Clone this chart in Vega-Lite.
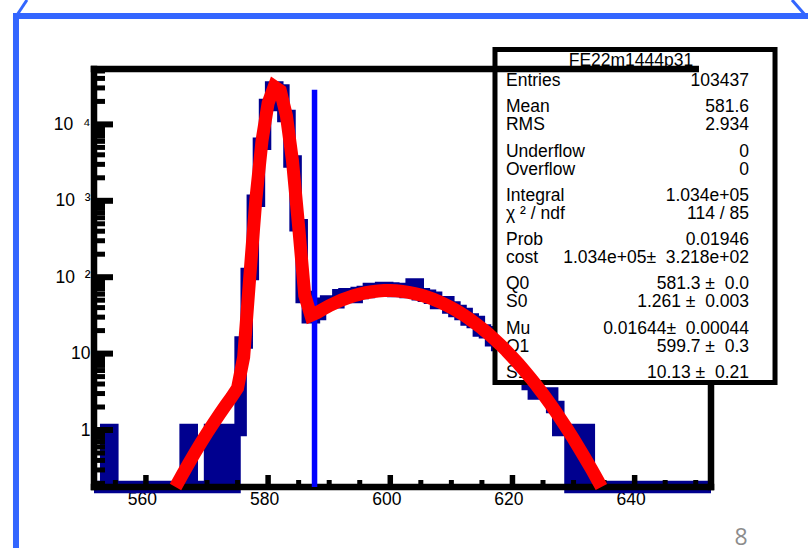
{
  "$schema": "https://vega.github.io/schema/vega-lite/v6.json",
  "width": 617,
  "height": 418,
  "autosize": {"type": "none"},
  "padding": {"left": 94, "top": 69, "right": 97, "bottom": 61},
  "background": "white",
  "config": {"view": {"stroke": null}, "font": "Liberation Sans"},
  "datasets": {
    "hist": [
      {"edge": 551.5, "n": 0}, {"edge": 552.5, "n": 0}, {"edge": 553.5, "n": 1}, {"edge": 554.5, "n": 0},
      {"edge": 555.5, "n": 0}, {"edge": 556.5, "n": 0}, {"edge": 557.5, "n": 0}, {"edge": 558.5, "n": 0},
      {"edge": 559.5, "n": 0}, {"edge": 560.5, "n": 0}, {"edge": 561.5, "n": 0}, {"edge": 562.5, "n": 0},
      {"edge": 563.5, "n": 0}, {"edge": 564.5, "n": 0}, {"edge": 565.5, "n": 0}, {"edge": 566.5, "n": 1},
      {"edge": 567.5, "n": 0}, {"edge": 568.5, "n": 0}, {"edge": 569.5, "n": 0}, {"edge": 570.5, "n": 1},
      {"edge": 571.5, "n": 0}, {"edge": 572.5, "n": 1}, {"edge": 573.5, "n": 0}, {"edge": 574.5, "n": 1},
      {"edge": 575.5, "n": 14}, {"edge": 576.5, "n": 110}, {"edge": 577.5, "n": 1000}, {"edge": 578.5, "n": 5600},
      {"edge": 579.5, "n": 18000}, {"edge": 580.5, "n": 30500}, {"edge": 581.5, "n": 27800}, {"edge": 582.5, "n": 12900},
      {"edge": 583.5, "n": 3270}, {"edge": 584.5, "n": 480}, {"edge": 585.5, "n": 55}, {"edge": 586.5, "n": 30},
      {"edge": 587.5, "n": 33}, {"edge": 588.5, "n": 45}, {"edge": 589.5, "n": 48}, {"edge": 590.5, "n": 47},
      {"edge": 591.5, "n": 58}, {"edge": 592.5, "n": 60}, {"edge": 593.5, "n": 55}, {"edge": 594.5, "n": 62},
      {"edge": 595.5, "n": 64}, {"edge": 596.5, "n": 70}, {"edge": 597.5, "n": 68}, {"edge": 598.5, "n": 72},
      {"edge": 599.5, "n": 71}, {"edge": 600.5, "n": 66}, {"edge": 601.5, "n": 70}, {"edge": 602.5, "n": 64},
      {"edge": 603.5, "n": 80}, {"edge": 604.5, "n": 60}, {"edge": 605.5, "n": 57}, {"edge": 606.5, "n": 54},
      {"edge": 607.5, "n": 46}, {"edge": 608.5, "n": 47}, {"edge": 609.5, "n": 40}, {"edge": 610.5, "n": 36},
      {"edge": 611.5, "n": 33}, {"edge": 612.5, "n": 28}, {"edge": 613.5, "n": 26}, {"edge": 614.5, "n": 20},
      {"edge": 615.5, "n": 19}, {"edge": 616.5, "n": 15}, {"edge": 617.5, "n": 13}, {"edge": 618.5, "n": 11},
      {"edge": 619.5, "n": 9}, {"edge": 620.5, "n": 7}, {"edge": 621.5, "n": 5}, {"edge": 622.5, "n": 4},
      {"edge": 623.5, "n": 3}, {"edge": 624.5, "n": 3}, {"edge": 625.5, "n": 3}, {"edge": 626.5, "n": 2},
      {"edge": 627.5, "n": 1}, {"edge": 628.5, "n": 1}, {"edge": 629.5, "n": 0}, {"edge": 630.5, "n": 1},
      {"edge": 631.5, "n": 1}, {"edge": 632.5, "n": 0}, {"edge": 633.5, "n": 0}, {"edge": 634.5, "n": 0},
      {"edge": 635.5, "n": 0}, {"edge": 636.5, "n": 0}, {"edge": 637.5, "n": 0}, {"edge": 638.5, "n": 0},
      {"edge": 639.5, "n": 0}, {"edge": 640.5, "n": 0}, {"edge": 641.5, "n": 0}, {"edge": 642.5, "n": 0},
      {"edge": 643.5, "n": 0}, {"edge": 644.5, "n": 0}, {"edge": 645.5, "n": 0}, {"edge": 646.5, "n": 0},
      {"edge": 647.5, "n": 0}, {"edge": 648.5, "n": 0}, {"edge": 649.5, "n": 0}, {"edge": 650.5, "n": 0},
      {"edge": 651.5, "n": 0}, {"edge": 652.5, "n": 0}
    ],
    "fit": [
      {"x": 564.84, "f": 0.1795}, {"x": 565, "f": 0.1893}, {"x": 566, "f": 0.2636}, {"x": 567, "f": 0.3648},
      {"x": 568, "f": 0.4992}, {"x": 569, "f": 0.677}, {"x": 570, "f": 0.9092}, {"x": 571, "f": 1.208},
      {"x": 572, "f": 1.5905}, {"x": 573, "f": 2.073}, {"x": 574, "f": 2.676}, {"x": 575, "f": 3.54},
      {"x": 576, "f": 9.02}, {"x": 577, "f": 101.5}, {"x": 578, "f": 1055}, {"x": 579, "f": 6107},
      {"x": 580, "f": 18924}, {"x": 581, "f": 31294}, {"x": 582, "f": 27599}, {"x": 583, "f": 12986},
      {"x": 584, "f": 3271}, {"x": 585, "f": 457.8}, {"x": 586, "f": 57.74}, {"x": 587, "f": 31.66},
      {"x": 588, "f": 34.36}, {"x": 589, "f": 38.29}, {"x": 590, "f": 42.29}, {"x": 591, "f": 46.26},
      {"x": 592, "f": 50.12}, {"x": 593, "f": 53.75}, {"x": 594, "f": 57.11}, {"x": 595, "f": 60.07},
      {"x": 596, "f": 62.59}, {"x": 597, "f": 64.57}, {"x": 598, "f": 65.97}, {"x": 599, "f": 66.74},
      {"x": 600, "f": 66.87}, {"x": 601, "f": 66.35}, {"x": 602, "f": 65.18}, {"x": 603, "f": 63.38},
      {"x": 604, "f": 61.14}, {"x": 605, "f": 58.29}, {"x": 606, "f": 55.11}, {"x": 607, "f": 51.6},
      {"x": 608, "f": 47.81}, {"x": 609, "f": 43.9}, {"x": 610, "f": 39.89}, {"x": 611, "f": 35.91},
      {"x": 612, "f": 32.03}, {"x": 613, "f": 28.24}, {"x": 614, "f": 24.65}, {"x": 615, "f": 21.37},
      {"x": 616, "f": 18.35}, {"x": 617, "f": 15.52}, {"x": 618, "f": 13.07}, {"x": 619, "f": 10.91},
      {"x": 620, "f": 8.98}, {"x": 621, "f": 7.33}, {"x": 622, "f": 5.92}, {"x": 623, "f": 4.75},
      {"x": 624, "f": 3.77}, {"x": 625, "f": 2.96}, {"x": 626, "f": 2.3}, {"x": 627, "f": 1.77},
      {"x": 628, "f": 1.35}, {"x": 629, "f": 1.02}, {"x": 630, "f": 0.762}, {"x": 631, "f": 0.562},
      {"x": 632, "f": 0.413}, {"x": 633, "f": 0.301}, {"x": 634, "f": 0.217}, {"x": 634.56, "f": 0.1795}
    ],
    "stats": [
      {"label": "Entries", "value": "103437", "g": 0, "half": 1},
      {"label": "Mean", "value": "581.6", "g": 1, "half": 0},
      {"label": "RMS", "value": "2.934", "g": 1, "half": 1},
      {"label": "Underflow", "value": "0", "g": 2, "half": 0},
      {"label": "Overflow", "value": "0", "g": 2, "half": 1},
      {"label": "Integral", "value": "1.034e+05", "g": 3, "half": 0},
      {"label": "χ ² / ndf", "value": "114 / 85", "g": 3, "half": 1},
      {"label": "Prob", "value": "0.01946", "g": 4, "half": 0},
      {"label": "cost", "value": "1.034e+05±\u00a0 3.218e+02", "g": 4, "half": 1},
      {"label": "Q0", "value": "581.3 ±\u00a0 0.0", "g": 5, "half": 0},
      {"label": "S0", "value": "1.261 ±\u00a0 0.003", "g": 5, "half": 1},
      {"label": "Mu", "value": "0.01644±\u00a0 0.00044", "g": 6, "half": 0},
      {"label": "Q1", "value": "599.7 ±\u00a0 0.3", "g": 6, "half": 1},
      {"label": "S1", "value": "10.13 ±\u00a0 0.21", "g": 7, "half": 0}
    ],
    "xmajor": [{"v": 560}, {"v": 580}, {"v": 600}, {"v": 620}, {"v": 640}],
    "xminor": [{"v": 555}, {"v": 565}, {"v": 570}, {"v": 575}, {"v": 585}, {"v": 590}, {"v": 595}, {"v": 605},
               {"v": 610}, {"v": 615}, {"v": 625}, {"v": 630}, {"v": 635}, {"v": 645}, {"v": 650}],
    "ymajor": [{"v": 1}, {"v": 10}, {"v": 100}, {"v": 1000}, {"v": 10000}],
    "yminor": [{"v": 0.2}, {"v": 0.3}, {"v": 0.4}, {"v": 0.5}, {"v": 0.6}, {"v": 0.7}, {"v": 0.8}, {"v": 0.9},
               {"v": 2}, {"v": 3}, {"v": 4}, {"v": 5}, {"v": 6}, {"v": 7}, {"v": 8}, {"v": 9},
               {"v": 20}, {"v": 30}, {"v": 40}, {"v": 50}, {"v": 60}, {"v": 70}, {"v": 80}, {"v": 90},
               {"v": 200}, {"v": 300}, {"v": 400}, {"v": 500}, {"v": 600}, {"v": 700}, {"v": 800}, {"v": 900},
               {"v": 2000}, {"v": 3000}, {"v": 4000}, {"v": 5000}, {"v": 6000}, {"v": 7000}, {"v": 8000}, {"v": 9000},
               {"v": 20000}, {"v": 30000}, {"v": 40000}, {"v": 50000}]
  },
  "layer": [
    {
      "layer": [
        {
          "data": {"name": "hist"},
          "mark": {"type": "line", "interpolate": "step-after", "color": "#00008f", "strokeWidth": 12.5, "strokeJoin": "miter", "strokeCap": "butt"},
          "encoding": {
            "x": {"field": "edge", "type": "quantitative",
                  "scale": {"type": "linear", "domain": [551.5, 652.5], "nice": false, "zero": false},
                  "axis": {"values": [560, 580, 600, 620, 640], "ticks": false, "domain": false, "grid": false, "title": null,
                           "labelFont": "Liberation Sans", "labelFontSize": 17.5, "labelColor": "black",
                           "labelPadding": 3, "labelOffset": -4, "labelFlush": false, "labelOverlap": false}},
            "y": {"field": "n", "type": "quantitative",
                  "scale": {"type": "log", "domain": [0.1795, 53100], "nice": false, "clamp": true},
                  "axis": {"values": [1, 10, 100, 1000, 10000], "ticks": false, "domain": false, "grid": false, "title": null,
                           "labelExpr": "datum.value == 1 ? '1' : datum.value == 10 ? '10' : datum.value == 100 ? '10\u00a0 ²\u00a0' : datum.value == 1000 ? '10\u00a0 ³\u00a0' : '10\u00a0 ⁴\u00a0'",
                           "labelFont": "Liberation Sans", "labelFontSize": 17.5, "labelColor": "black",
                           "labelPadding": 4, "labelFlush": false, "labelOverlap": false}}
          }
        },
        {
          "data": {"values": [{}]},
          "mark": {"type": "rule", "color": "black", "strokeWidth": 6.5, "strokeCap": "square"},
          "encoding": {"x": {"datum": 551.5}, "y": {"datum": 0.1795}, "y2": {"datum": 53100}}
        },
        {
          "data": {"values": [{}]},
          "mark": {"type": "rule", "color": "black", "strokeWidth": 6.5, "strokeCap": "square"},
          "encoding": {"x": {"datum": 652.5}, "y": {"datum": 0.1795}, "y2": {"datum": 53100}}
        },
        {
          "data": {"values": [{}]},
          "mark": {"type": "rule", "color": "black", "strokeWidth": 6.5, "strokeCap": "square"},
          "encoding": {"x": {"datum": 551.5}, "x2": {"datum": 652.5}, "y": {"datum": 0.1795}}
        },
        {
          "data": {"name": "xmajor"},
          "mark": {"type": "tick", "orient": "vertical", "color": "black", "opacity": 1, "size": 12, "thickness": 5.5, "yOffset": -6},
          "encoding": {"x": {"field": "v", "type": "quantitative"}, "y": {"datum": 0.1795}}
        },
        {
          "data": {"name": "xminor"},
          "mark": {"type": "tick", "orient": "vertical", "color": "black", "opacity": 1, "size": 7, "thickness": 5, "yOffset": -3.5},
          "encoding": {"x": {"field": "v", "type": "quantitative"}, "y": {"datum": 0.1795}}
        },
        {
          "data": {"name": "ymajor"},
          "mark": {"type": "tick", "orient": "horizontal", "color": "black", "opacity": 1, "size": 19, "thickness": 6, "xOffset": 9.5},
          "encoding": {"y": {"field": "v", "type": "quantitative"}, "x": {"datum": 551.5}}
        },
        {
          "data": {"name": "yminor"},
          "mark": {"type": "tick", "orient": "horizontal", "color": "black", "opacity": 1, "size": 11, "thickness": 5, "xOffset": 5.5},
          "encoding": {"y": {"field": "v", "type": "quantitative"}, "x": {"datum": 551.5}}
        }
      ]
    },
    {
      "layer": [
        {
          "data": {"values": [{}]},
          "mark": {"type": "rect", "fill": "white", "stroke": "black", "strokeWidth": 5},
          "encoding": {
            "x": {"datum": 617.14, "scale": {"type": "linear", "domain": [551.5, 652.5], "nice": false, "zero": false}, "axis": null},
            "x2": {"datum": 662.98},
            "y": {"datum": -0.508, "scale": {"type": "linear", "domain": [-0.0677, 9.368], "reverse": true, "nice": false, "zero": false}, "axis": null},
            "y2": {"datum": 7.009}
          }
        },
        {
          "data": {"name": "stats"},
          "transform": [{"filter": "datum.half == 0"}],
          "mark": {"type": "text", "align": "left", "baseline": "middle", "dy": -9, "font": "Liberation Sans", "fontSize": 17.5, "color": "black"},
          "encoding": {"x": {"datum": 618.94, "axis": null}, "y": {"field": "g", "type": "quantitative", "axis": null}, "text": {"field": "label"}}
        },
        {
          "data": {"name": "stats"},
          "transform": [{"filter": "datum.half == 1"}],
          "mark": {"type": "text", "align": "left", "baseline": "middle", "dy": 9, "font": "Liberation Sans", "fontSize": 17.5, "color": "black"},
          "encoding": {"x": {"datum": 618.94, "axis": null}, "y": {"field": "g", "type": "quantitative", "axis": null}, "text": {"field": "label"}}
        },
        {
          "data": {"name": "stats"},
          "transform": [{"filter": "datum.half == 0"}],
          "mark": {"type": "text", "align": "right", "baseline": "middle", "dy": -9, "font": "Liberation Sans", "fontSize": 17.5, "color": "black"},
          "encoding": {"x": {"datum": 658.72, "axis": null}, "y": {"field": "g", "type": "quantitative", "axis": null}, "text": {"field": "value"}}
        },
        {
          "data": {"name": "stats"},
          "transform": [{"filter": "datum.half == 1"}],
          "mark": {"type": "text", "align": "right", "baseline": "middle", "dy": 9, "font": "Liberation Sans", "fontSize": 17.5, "color": "black"},
          "encoding": {"x": {"datum": 658.72, "axis": null}, "y": {"field": "g", "type": "quantitative", "axis": null}, "text": {"field": "value"}}
        },
        {
          "data": {"values": [{"name": "FE22m1444p31"}]},
          "mark": {"type": "text", "align": "center", "baseline": "middle", "dy": -11, "font": "Liberation Sans", "fontSize": 17.5, "color": "black"},
          "encoding": {"x": {"datum": 639.4, "axis": null}, "y": {"datum": 0, "axis": null}, "text": {"field": "name"}}
        },
        {
          "data": {"values": [{}]},
          "mark": {"type": "rule", "color": "#3366ff", "strokeWidth": 6},
          "encoding": {"x": {"datum": 538.24, "axis": null}, "x2": {"datum": 668.38}, "y": {"datum": -1.2641, "axis": null}}
        },
        {
          "data": {"values": [{}]},
          "mark": {"type": "rule", "color": "#3366ff", "strokeWidth": 6},
          "encoding": {"x": {"datum": 538.73, "axis": null}, "y": {"datum": -1.2641, "axis": null}, "y2": {"datum": 10.745}}
        },
        {
          "data": {"values": [{}]},
          "mark": {"type": "rule", "color": "#3366ff", "strokeWidth": 3},
          "encoding": {"x": {"datum": 538.57, "axis": null}, "x2": {"datum": 540.53}, "y": {"datum": -1.219, "axis": null}, "y2": {"datum": -1.6253}}
        },
        {
          "data": {"values": [{}]},
          "mark": {"type": "rule", "color": "#3366ff", "strokeWidth": 3},
          "encoding": {"x": {"datum": 665.76, "axis": null}, "x2": {"datum": 668.05}, "y": {"datum": -1.6253, "axis": null}, "y2": {"datum": -1.2641}}
        },
        {
          "data": {"values": [{"page": "8"}]},
          "mark": {"type": "text", "align": "center", "baseline": "alphabetic", "font": "Open Sans", "fontSize": 23, "color": "#8c8c8c"},
          "encoding": {"x": {"datum": 657.41, "axis": null}, "y": {"datum": 10.68, "axis": null}, "text": {"field": "page"}}
        }
      ]
    },
    {
      "layer": [
        {
          "data": {"values": [{}]},
          "mark": {"type": "rule", "color": "black", "strokeWidth": 6.5, "strokeCap": "square"},
          "encoding": {
            "x": {"datum": 551.5, "scale": {"type": "linear", "domain": [551.5, 652.5], "nice": false, "zero": false}, "axis": null},
            "x2": {"datum": 650},
            "y": {"datum": 53100, "scale": {"type": "log", "domain": [0.1795, 53100], "nice": false}, "axis": null}
          }
        },
        {
          "data": {"values": [{}]},
          "mark": {"type": "rule", "color": "#0000ff", "strokeWidth": 5.5},
          "encoding": {"x": {"datum": 587.6, "axis": null}, "y": {"datum": 0.1795, "axis": null}, "y2": {"datum": 28500}}
        },
        {
          "data": {"name": "fit"},
          "mark": {"type": "line", "color": "#ff0000", "strokeWidth": 13, "strokeJoin": "miter", "strokeMiterLimit": 4, "strokeCap": "butt"},
          "encoding": {"x": {"field": "x", "type": "quantitative", "axis": null}, "y": {"field": "f", "type": "quantitative", "axis": null}}
        }
      ]
    }
  ],
  "resolve": {"scale": {"y": "independent"}, "axis": {"x": "independent"}}
}
